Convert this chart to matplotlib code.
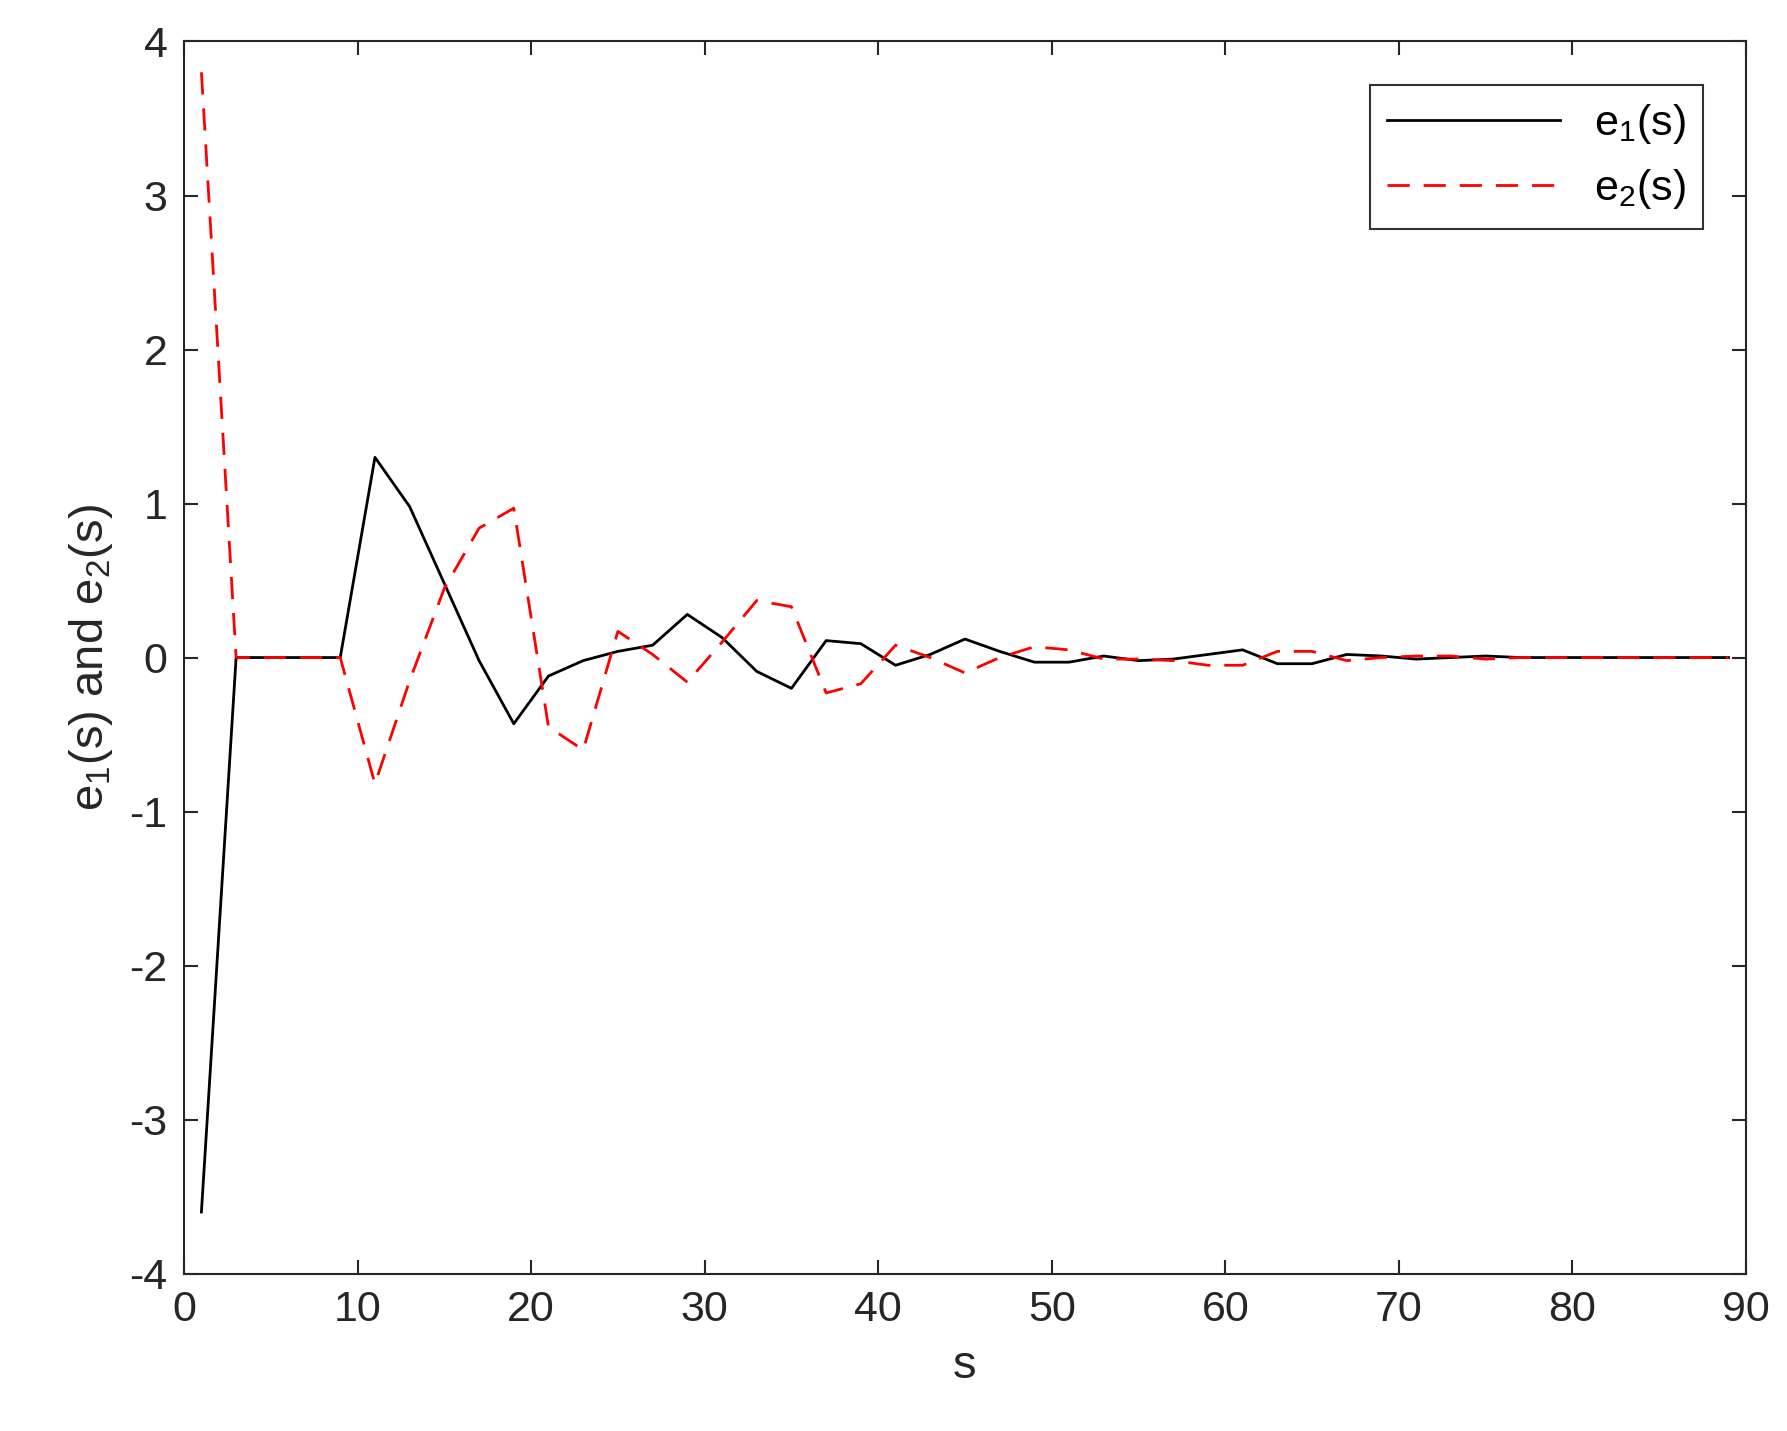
import matplotlib
matplotlib.use("Agg")
import matplotlib.pyplot as plt
import numpy as np

plt.rcParams['font.family'] = ['Liberation Sans', 'DejaVu Sans']
plt.rcParams['mathtext.fontset'] = 'custom'
plt.rcParams['mathtext.rm'] = 'Liberation Sans'
plt.rcParams['axes.unicode_minus'] = False

s = list(range(1, 91, 2))
e1 = [-3.6, 0, 0, 0, 0, 1.3, 0.98, 0.48, -0.02, -0.43,
      -0.12, -0.02, 0.04, 0.08, 0.28, 0.13, -0.09, -0.2, 0.11, 0.09,
      -0.05, 0.02, 0.12, 0.04, -0.03, -0.03, 0.01, -0.02, -0.01, 0.02,
      0.05, -0.04, -0.04, 0.02, 0.01, -0.01, 0.0, 0.01, 0, 0,
      0, 0, 0, 0, 0]
e2 = [3.8, 0, 0, 0, 0, -0.82, -0.15, 0.45, 0.84, 0.97,
      -0.45, -0.6, 0.17, 0.02, -0.16, 0.1, 0.37, 0.33, -0.23, -0.17,
      0.08, 0.0, -0.1, 0.0, 0.07, 0.05, -0.01, -0.01, -0.02, -0.05,
      -0.05, 0.04, 0.04, -0.02, 0.0, 0.01, 0.01, -0.01, 0, 0,
      0, 0, 0, 0, 0]

fig = plt.figure(figsize=(17.87, 14.31), dpi=100)
ax = fig.add_axes([0.103, 0.110, 0.874, 0.861])
ax.plot(s, e1, color='black', lw=2, label=r'e$_1$(s)')
ax.plot(s, e2, color='red', lw=2, ls=(0, (8, 5)), label=r'e$_2$(s)')
ax.set_xlim(0, 90)
ax.set_ylim(-4, 4)
ax.set_xticks(range(0, 91, 10))
ax.set_yticks(range(-4, 5))
ax.tick_params(direction='in', top=True, right=True, labelsize=31, length=10, width=1.5,
               colors='#262626', pad=12)
for sp in ax.spines.values():
    sp.set_linewidth(1.5)
    sp.set_color('#262626')
ax.set_xlabel('s', fontsize=34, color='#262626', labelpad=10)
ax.set_ylabel(r'e$_1$(s) and e$_2$(s)', fontsize=34, color='#262626', labelpad=10)
leg = ax.legend(loc='upper right', fontsize=31, fancybox=False, edgecolor='black',
                handlelength=4, borderaxespad=1.0)
leg.get_frame().set_linewidth(1.5)
fig.savefig('out.png', dpi=100)
